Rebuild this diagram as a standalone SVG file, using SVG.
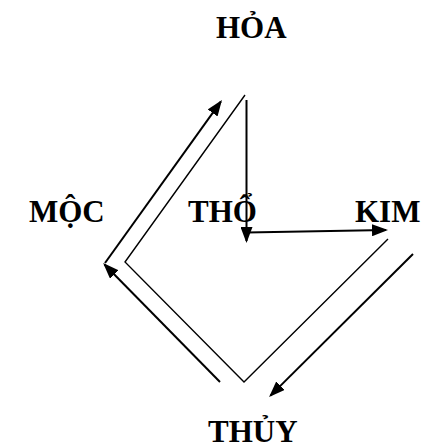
<svg xmlns="http://www.w3.org/2000/svg" width="421" height="443" viewBox="0 0 421 443">
<style>
text { font-family: "Liberation Serif", "Times New Roman", serif; font-weight: bold; font-size: 31px; fill: #000; }
.thick { fill: none; stroke: #000; stroke-width: 2; }
.thin { fill: none; stroke: #000; stroke-width: 1.4; }
</style>
<defs>
<marker id="arr" viewBox="0 0 16 12" refX="14" refY="6" markerWidth="16" markerHeight="12" markerUnits="userSpaceOnUse" orient="auto">
<path d="M0,0 L16,6 L0,12 Z" fill="#000"/>
</marker>
</defs>
<g id="hoa"><text x="216" y="38">HỎA</text></g>
<g id="moc"><text x="29" y="222">MỘC</text></g>
<g id="tho"><text x="188" y="222">THỔ</text></g>
<g id="kim"><text x="355" y="222">KIM</text></g>
<g id="thuy"><text x="208" y="442">THỦY</text></g>
<g id="connectors">
<line class="thick" x1="246.5" y1="100" x2="246.5" y2="241" marker-end="url(#arr)"/>
<line class="thick" x1="246.5" y1="232.5" x2="386" y2="230" marker-end="url(#arr)"/>
<polyline class="thin" points="245,95 125,262 244,382 388,239"/>
<line class="thick" x1="220" y1="382" x2="104.5" y2="264.5" marker-end="url(#arr)"/>
<line class="thick" x1="105" y1="263" x2="220.8" y2="101.6" marker-end="url(#arr)"/>
<line class="thick" x1="413" y1="254" x2="270.5" y2="395.6" marker-end="url(#arr)"/>
</g>
</svg>
